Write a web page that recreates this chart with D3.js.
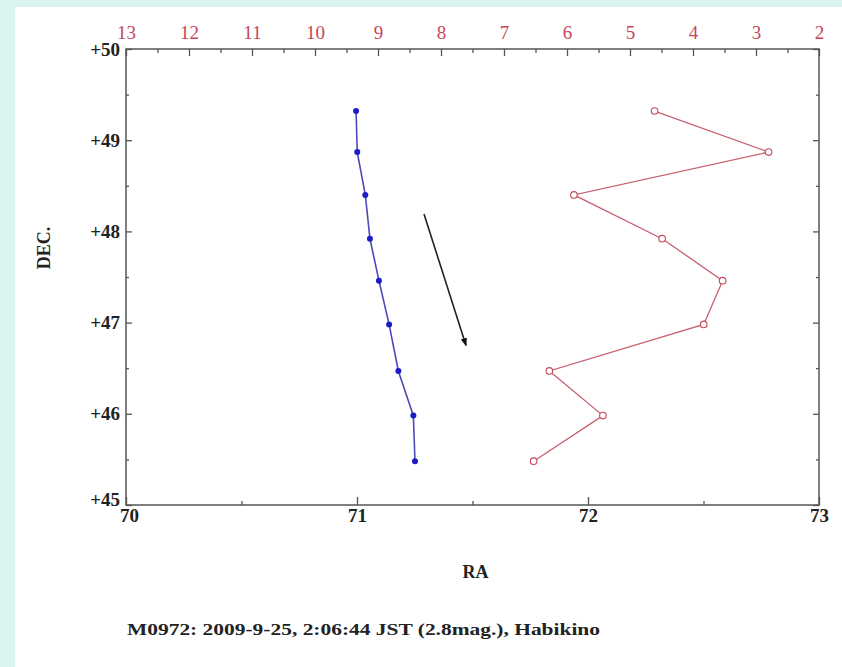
<!DOCTYPE html>
<html>
<head>
<meta charset="utf-8">
<script src="https://cdn.jsdelivr.net/npm/d3@7"></script>
<style>
  body { margin:0; background:#dcf4f0; }
  svg { display:block; }
  text { font-family:"Liberation Serif", Tinos, "Times New Roman", Times, serif; }
</style>
</head>
<body>
<svg id="chart" width="842" height="667"></svg>
<script>
// positions: RA / DEC for the path, magnitude on top axis
var dec = [49.32, 48.87, 48.40, 47.92, 47.46, 46.98, 46.47, 45.98, 45.48];
var ra  = [70.996, 71.001, 71.036, 71.056, 71.095, 71.139, 71.179, 71.244, 71.251];
var mag = [4.61, 2.8, 5.89, 4.49, 3.53, 3.83, 6.28, 5.43, 6.53];

var raTicks  = [70, 71, 72, 73];
var decTicks = [45, 46, 47, 48, 49, 50];
var magTicks = [13, 12, 11, 10, 9, 8, 7, 6, 5, 4, 3, 2];

// direction arrow (RA, DEC)
var arrowPts = [[71.29, 48.19], [71.472, 46.75]];

var caption = 'M0972:  2009-9-25, 2:06:44 JST (2.8mag.),  Habikino';

var m = {t:49, r:23, b:162, l:126};
var W = 842, H = 667;
var width = W - m.l - m.r, height = H - m.t - m.b;

var svg = d3.select('#chart');

// white sheet over the cyan page
svg.append('rect').attr('x',15).attr('y',7).attr('width',W-15).attr('height',H-7).attr('fill','#fff');

var x = d3.scaleLinear().domain([70,73]).range([0,width]);
var xTop = d3.scaleLinear().domain([13,2]).range([0,width]);
var y = d3.scaleLinear().domain([45,50]).range([height,0]);

var plot = svg.append('g').attr('transform','translate('+m.l+','+m.t+')');

var axisCol = '#555';

function halves(a){ var out=[]; for (var i=0;i<a.length-1;i++) out.push((a[i]+a[i+1])/2); return out; }

function styleAxis(g){
  g.attr('font-family',null);
  g.select('.domain').remove();
  g.selectAll('line').attr('stroke',axisCol).attr('stroke-width',1.3);
}

// left
plot.append('g')
  .call(d3.axisLeft(y).tickValues(decTicks).tickSize(-6).tickSizeOuter(0).tickPadding(6)
    .tickFormat(function(d){ return '+'+d; }))
  .call(styleAxis)
  .selectAll('text').attr('font-size',19).attr('font-weight','bold').attr('fill','#222')
  .attr('dy',function(d){ return d==45 ? '0.05em' : '0.32em'; });
plot.append('g')
  .call(d3.axisLeft(y).tickValues(halves(decTicks)).tickSize(-3).tickFormat(''))
  .call(styleAxis);

// right
plot.append('g').attr('transform','translate('+width+',0)')
  .call(d3.axisRight(y).tickValues(decTicks).tickSize(-6).tickFormat(''))
  .call(styleAxis);
plot.append('g').attr('transform','translate('+width+',0)')
  .call(d3.axisRight(y).tickValues(halves(decTicks)).tickSize(-3).tickFormat(''))
  .call(styleAxis);

// bottom
plot.append('g').attr('transform','translate(0,'+height+')')
  .call(d3.axisBottom(x).tickValues(raTicks).tickSize(-8).tickPadding(4).tickFormat(d3.format('d')))
  .call(styleAxis)
  .selectAll('text').attr('font-size',19).attr('font-weight','bold').attr('fill','#222')
  .attr('dx',function(d){ return d==70 ? 3 : 0; });
plot.append('g').attr('transform','translate(0,'+height+')')
  .call(d3.axisBottom(x).tickValues(halves(raTicks)).tickSize(-4).tickFormat(''))
  .call(styleAxis);

// top (magnitude)
plot.append('g')
  .call(d3.axisTop(xTop).tickValues(magTicks).tickSize(-7).tickPadding(10))
  .call(styleAxis)
  .selectAll('text').attr('font-size',19).attr('fill','#c8465a');
plot.append('g')
  .call(d3.axisTop(xTop).tickValues(halves(magTicks)).tickSize(-4).tickFormat(''))
  .call(styleAxis);

// frame
plot.append('rect').attr('width',width).attr('height',height)
  .attr('fill','none').attr('stroke',axisCol).attr('stroke-width',1.5);

var blue = dec.map(function(d,i){ return {x:x(ra[i]), y:y(d)}; });
var red  = dec.map(function(d,i){ return {x:xTop(mag[i]), y:y(d)}; });

var line = d3.line().x(function(d){return d.x}).y(function(d){return d.y});

plot.append('path').datum(blue).attr('d',line)
  .attr('fill','none').attr('stroke','#4a4ab8').attr('stroke-width',1.6);
plot.selectAll('.bdot').data(blue).enter().append('circle')
  .attr('class','bdot').attr('cx',function(d){return d.x}).attr('cy',function(d){return d.y})
  .attr('r',3).attr('fill','#1c1cc8');

plot.append('path').datum(red).attr('d',line)
  .attr('fill','none').attr('stroke','#c8606e').attr('stroke-width',1.3);
plot.selectAll('.rdot').data(red).enter().append('circle')
  .attr('class','rdot').attr('cx',function(d){return d.x}).attr('cy',function(d){return d.y})
  .attr('r',3.3).attr('fill','#fff').attr('stroke','#c8465a').attr('stroke-width',1.1);

// arrow
svg.append('defs').append('marker').attr('id','ah')
  .attr('viewBox','0 0 10 10').attr('refX',9).attr('refY',5)
  .attr('markerWidth',5).attr('markerHeight',5).attr('orient','auto')
  .append('path').attr('d','M0,1 L10,5 L0,9 Z').attr('fill','#111');
plot.append('line')
  .attr('x1',x(arrowPts[0][0])).attr('y1',y(arrowPts[0][1]))
  .attr('x2',x(arrowPts[1][0])).attr('y2',y(arrowPts[1][1]))
  .attr('stroke','#222').attr('stroke-width',1.6).attr('marker-end','url(#ah)');

// titles
svg.append('text').attr('transform','translate(50,'+(m.t+199)+') rotate(-90)')
  .attr('text-anchor','middle').attr('font-weight','bold')
  .attr('font-size',18).attr('fill','#222').text('DEC.');
svg.append('text').attr('x',m.l+width/2+3).attr('y',578)
  .attr('text-anchor','middle').attr('font-weight','bold')
  .attr('font-size',18).attr('fill','#222').text('RA');
svg.append('text').attr('x',127).attr('y',635)
  .attr('font-weight','bold').attr('font-size',17)
  .attr('fill','#222').attr('textLength',473).attr('lengthAdjust','spacingAndGlyphs')
  .text(caption);
</script>
</body>
</html>
